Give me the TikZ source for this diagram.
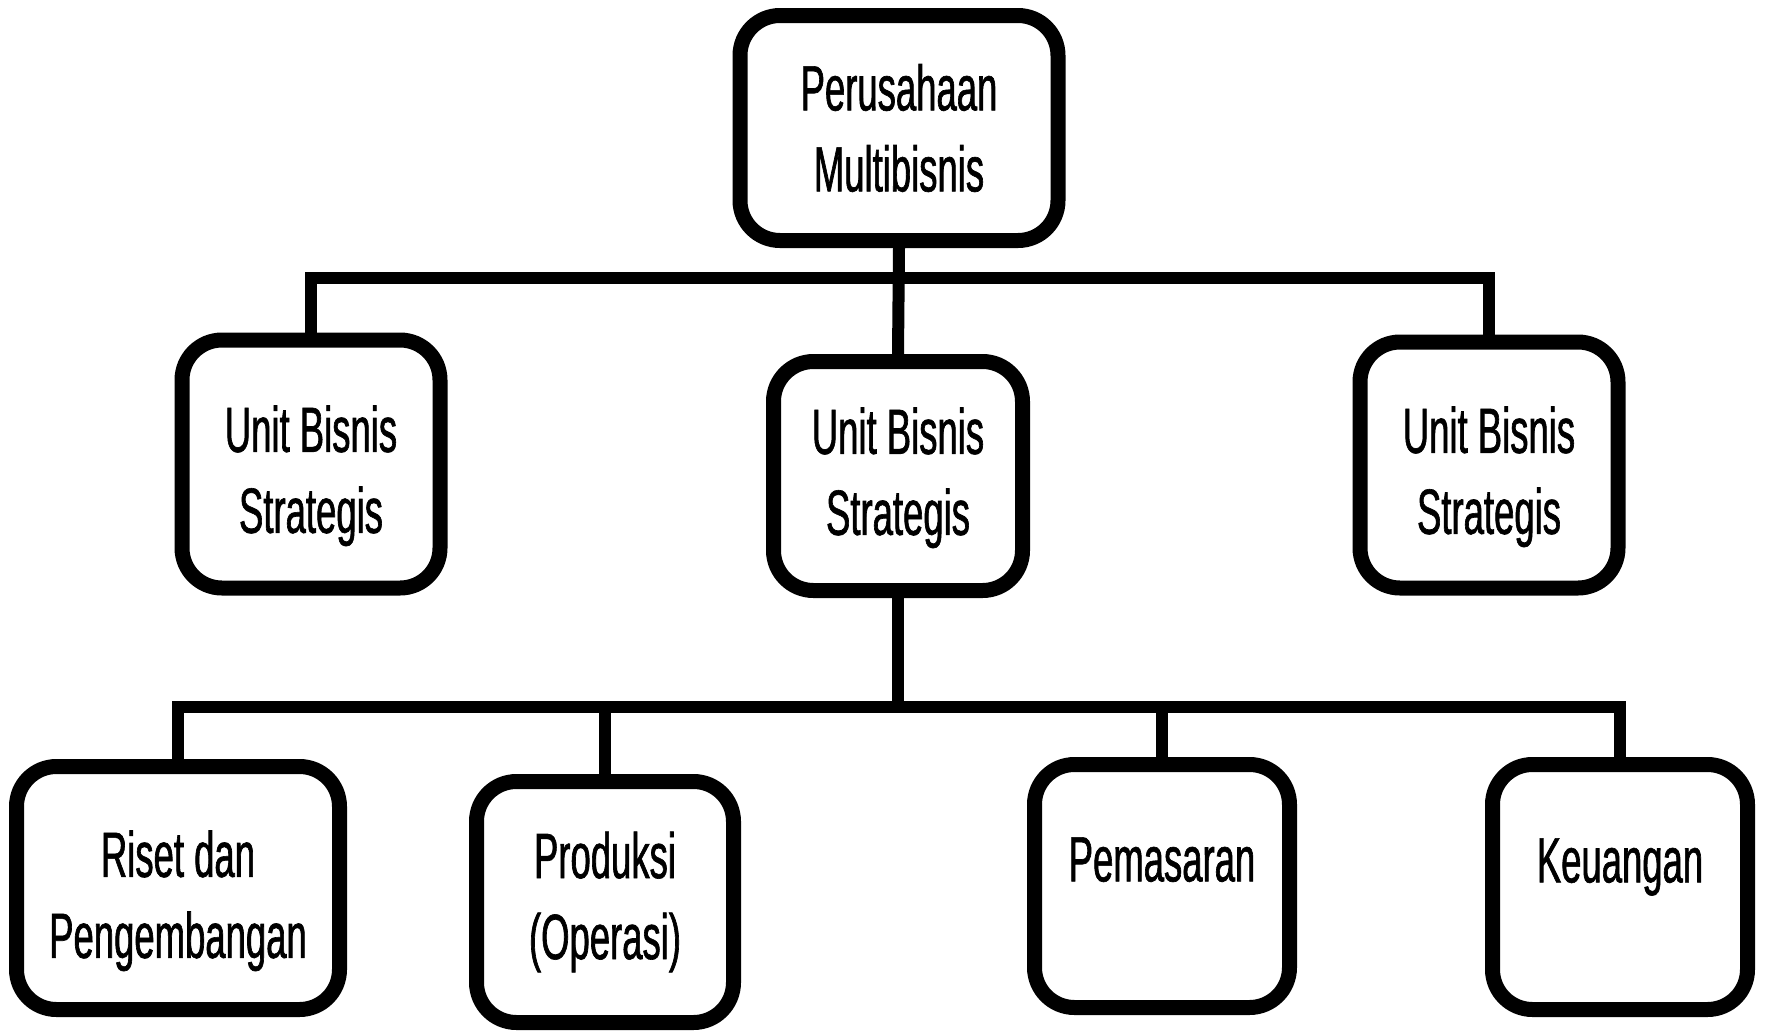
\documentclass[tikz,border=0pt]{standalone}
\usepackage{fontspec}
\setmainfont{Liberation Sans}[FakeStretch=0.57,FakeBold=1]

% turunkan teks baris pertama
\newcommand{\geser}[1]{\rule{0pt}{#1}}

\begin{document}
\begin{tikzpicture}[x=0.5pt,y=-0.5pt,
  kotak/.style={draw, line width=7.5pt, rounded corners=20pt, inner sep=0pt,
    align=center, font=\fontsize{32}{40.5}\selectfont},
  garis/.style={line width=6pt}]
\useasboundingbox (0,0) rectangle (1769,1035);

% puncak
\node[kotak, minimum width=159pt, minimum height=112.5pt] (induk) at (899,128)
  {Perusahaan\\Multibisnis};

% unit bisnis strategis
\node[kotak, minimum width=129pt, minimum height=124pt] (ubs1) at (311,464)
  {\geser{35pt}Unit Bisnis\\Strategis};
\node[kotak, minimum width=124.5pt, minimum height=114.5pt] (ubs2) at (898,476)
  {\geser{25pt}Unit Bisnis\\Strategis};
\node[kotak, minimum width=129pt, minimum height=123pt] (ubs3) at (1489,465)
  {\geser{35pt}Unit Bisnis\\Strategis};

% fungsi
\node[kotak, minimum width=161.5pt, minimum height=121.5pt] (riset) at (178,888)
  {\geser{36pt}Riset dan\\Pengembangan};
\node[kotak, minimum width=128.5pt, minimum height=120.5pt] (produksi) at (605,902)
  {Produksi\\(Operasi)};
\node[kotak, minimum width=127.5pt, minimum height=121.5pt] (pemasaran) at (1162,886)
  {\geser{48pt}Pemasaran\\\strut};
\node[kotak, minimum width=127.5pt, minimum height=122.5pt] (keuangan) at (1620,887)
  {\geser{48pt}Keuangan\\\strut};

\coordinate (bus1) at (0,278);
\coordinate (bus2) at (0,707);

\draw[garis] (induk.south) -- (ubs2.north);
\draw[garis] (ubs1.north) -- (ubs1.north |- bus1) -- (ubs3.north |- bus1) -- (ubs3.north);

\draw[garis] (ubs2.south) -- (ubs2.south |- bus2);
\draw[garis] (riset.north) -- (riset.north |- bus2) -- (keuangan.north |- bus2) -- (keuangan.north);
\draw[garis] (produksi.north) -- (produksi.north |- bus2);
\draw[garis] (pemasaran.north) -- (pemasaran.north |- bus2);
\end{tikzpicture}
\end{document}
